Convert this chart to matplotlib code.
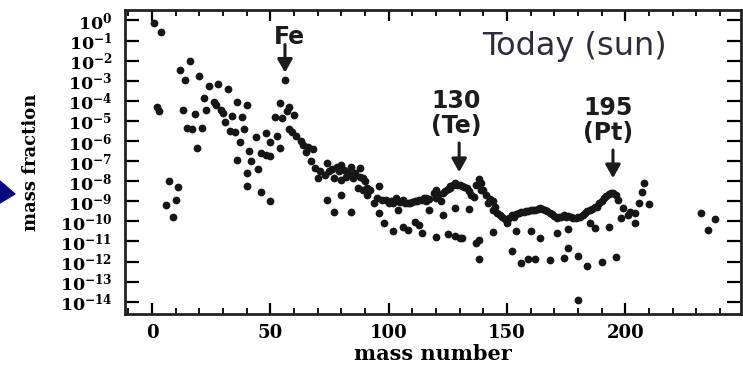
import numpy as np
import matplotlib.pyplot as plt
from matplotlib.ticker import FixedLocator, MultipleLocator, NullFormatter
from matplotlib.patches import Polygon

plt.rcParams['mathtext.fontset'] = 'dejavuserif'

# solar isotopic mass fractions: mass number and log10 of the mass fraction
mass_number = [
    1, 4, 2, 3, 6, 7, 9, 10, 11,
    12, 13, 14, 15, 16, 17, 18, 19, 20, 21, 22, 23, 24, 26, 27, 28, 29, 30,
    31, 32, 33, 34, 35, 36, 36, 37, 38, 39, 40, 40, 40, 41, 42, 44, 45, 46,
    46, 48, 48, 50, 50, 50, 52, 53, 54, 54, 55, 56, 57, 58, 58, 59, 60, 61,
    63, 64, 65, 66, 67, 68, 69, 70, 71, 73, 74, 74, 75, 76, 77, 77, 78, 79,
    80, 80, 80, 81, 82, 83, 84, 84, 85, 86, 87, 88, 88, 89, 89, 90, 91, 91,
    92, 94, 95, 96, 96, 97, 98, 99, 100, 101, 102, 102, 103, 104, 104, 105,
    106, 106, 107, 108, 108, 109, 110, 111, 111, 112, 113, 113, 114, 114, 115,
    116, 116, 117, 117, 119, 120, 120, 120, 121, 122, 123, 123, 124, 125, 125,
    126, 126, 127, 128, 128, 128, 129, 130, 130, 131, 131, 132, 133, 134, 134,
    135, 136, 137, 137, 138, 138, 138, 139, 139, 140, 141, 142, 143, 144, 144,
    144, 145, 146, 147, 148, 149, 150, 151, 152, 152, 153, 154, 154, 155, 156,
    156, 157, 158, 159, 159, 160, 160, 161, 162, 162, 163, 164, 164, 165, 166,
    167, 168, 168, 169, 170, 171, 171, 172, 173, 174, 174, 175, 176, 176, 176,
    177, 178, 179, 180, 180, 180, 181, 182, 183, 184, 184, 185, 185, 186, 187,
    187, 188, 189, 190, 190, 191, 192, 193, 193, 194, 195, 196, 196, 197, 198,
    199, 201, 202, 204, 204, 206, 207, 208, 210, 232, 235, 238,
]
log_fraction = [
    -0.12, -0.56, -4.30, -4.50, -9.18, -8.00, -9.76, -8.96, -8.30,
    -2.49, -4.44, -2.94, -5.35, -2.03, -5.40, -4.65, -6.35, -2.78, -5.35,
    -3.86, -4.44, -3.27, -4.07, -4.22, -3.18, -4.44, -4.60,
    -5.07, -3.39, -5.49, -4.74, -5.57, -4.07, -6.95, -6.05, -4.80, -5.40,
    -4.22, -7.60, -8.23, -6.50, -7.00, -5.82, -7.40, -6.60,
    -8.56, -5.60, -6.68, -6.07, -6.77, -9.00, -4.80, -5.74, -4.10, -6.35,
    -4.85, -2.94, -4.52, -4.30, -5.40, -5.57, -4.69, -5.77,
    -6.02, -6.18, -6.57, -6.30, -7.00, -6.40, -7.35, -7.85, -7.50, -7.68,
    -7.10, -8.96, -7.50, -7.40, -7.85, -9.51, -7.30, -7.50,
    -7.18, -7.93, -8.68, -7.45, -7.77, -7.60, -7.27, -9.54, -7.85, -7.60,
    -8.35, -7.35, -7.80, -7.85, -8.43, -8.00, -8.35, -8.68,
    -8.43, -9.09, -8.84, -8.26, -9.59, -8.93, -10.06, -8.93, -9.09, -9.00,
    -9.10, -10.47, -8.84, -9.01, -9.43, -9.05,
    -10.26, -8.95, -9.09, -10.42, -9.09, -9.09, -9.05, -9.01, -10.01, -9.00,
    -8.93, -10.17, -8.95, -10.59, -8.84,
    -9.01, -8.85, -9.43, -8.90, -8.59, -8.43, -8.84, -10.76, -8.70, -9.01,
    -8.60, -9.68, -8.50, -8.40, -10.64,
    -8.26, -8.34, -8.20, -8.10, -9.34, -10.72, -8.20, -8.18, -10.81, -8.25,
    -10.81, -8.30, -8.34, -8.50, -9.39,
    -8.68, -8.80, -8.20, -11.06, -7.90, -11.89, -10.92, -8.10, -8.43, -8.43,
    -8.70, -9.09, -8.90, -9.01, -9.43,
    -10.51, -9.30, -9.59, -9.68, -9.80, -9.90, -10.09, -9.85, -9.70, -11.47,
    -9.76, -9.65, -10.46, -9.60, -9.55,
    -12.09, -9.51, -9.50, -9.50, -11.89, -9.45, -10.46, -9.43, -9.45, -11.89,
    -9.40, -9.34, -10.81, -9.38, -9.45,
    -9.50, -9.59, -11.92, -9.65, -9.75, -9.84, -10.56, -9.80, -9.78, -9.70,
    -11.84, -9.76, -9.75, -10.39, -11.31,
    -9.80, -9.84, -9.82, -9.80, -11.71, -13.91, -9.76, -9.70, -9.60, -9.50,
    -12.22, -9.43, -10.09, -9.40, -9.26,
    -10.34, -9.26, -9.10, -9.00, -12.04, -8.84, -8.75, -8.65, -10.26, -8.60,
    -8.59, -8.70, -11.79, -8.93, -9.84,
    -9.34, -9.68, -9.51, -9.59, -10.09, -9.09, -8.56, -8.10, -9.13, -9.56,
    -10.42, -9.89,
]

decades = np.arange(0, -15, -1)
ytick_labels = [r'$\mathbf{10^{%d}}$' % d for d in decades]

fig = plt.figure(figsize=(7.43, 3.65), dpi=100)
ax = fig.add_axes([125 / 743, 1 - 314 / 365, 616 / 743, 304 / 365])

ax.plot(mass_number, 10.0 ** np.array(log_fraction), 'o', color='#161616',
        ms=5.6, mec='none')

ax.set_yscale('log')
ax.set_xlim(-11.4, 248.9)
ax.set_ylim(10 ** -14.61, 10 ** 0.52)

ax.yaxis.set_major_locator(FixedLocator(10.0 ** decades))
ax.yaxis.set_minor_locator(FixedLocator([]))
ax.set_yticklabels(ytick_labels)
ax.yaxis.set_minor_formatter(NullFormatter())
ax.xaxis.set_major_locator(MultipleLocator(50))
ax.xaxis.set_minor_locator(MultipleLocator(10))

ax.tick_params(axis='y', which='major', direction='in', length=10, width=1.6,
               left=True, right=True, pad=9, labelsize=12.5)
ax.tick_params(axis='x', which='major', direction='in', length=8, width=1.6,
               top=True, bottom=True, pad=7, labelsize=13)
ax.tick_params(axis='x', which='minor', direction='in', length=4, width=1.3,
               top=True, bottom=True)
for lab in ax.get_xticklabels():
    lab.set_family('DejaVu Serif')
    lab.set_weight('bold')

for s in ax.spines.values():
    s.set_linewidth(2.0)
    s.set_color('#222222')

ax.set_xlabel('mass number', family='DejaVu Serif', weight='bold',
              fontsize=15, labelpad=2)
ax.set_ylabel('mass fraction', family='DejaVu Serif', weight='bold',
              fontsize=13)
ax.yaxis.set_label_coords(-0.138, 0.5)

# element peaks with arrows
note_font = dict(family='DejaVu Sans', weight='bold', fontsize=17,
                 color='#1c1c1c', ha='center', va='center')
ax.text(58, 10 ** -0.8, 'Fe', **note_font)
ax.text(128.5, 10 ** -4.64, '130\n(Te)', linespacing=1.05, **note_font)
ax.text(192.7, 10 ** -4.96, '195\n(Pt)', linespacing=1.05, **note_font)

arrow = dict(arrowstyle='-|>,head_length=0.8,head_width=0.45', lw=2.2,
             color='#1c1c1c', shrinkA=0, shrinkB=0)
ax.annotate('', xy=(56.2, 10 ** -2.6), xytext=(56.2, 10 ** -1.2),
            arrowprops=arrow)
ax.annotate('', xy=(129.8, 10 ** -7.55), xytext=(129.8, 10 ** -6.1),
            arrowprops=arrow)
ax.annotate('', xy=(194.8, 10 ** -7.85), xytext=(194.8, 10 ** -6.45),
            arrowprops=arrow)

ax.text(139.3, 10 ** -1.3, 'Today (sun)', family='DejaVu Sans', fontsize=23,
        color='#2c2c3c', ha='left', va='center')

# pointer coming in from the left margin
fig.patches.append(Polygon([[0, 1 - 181 / 365], [15 / 743, 1 - 194 / 365],
                            [0, 1 - 203 / 365]], closed=True,
                           transform=fig.transFigure, color='#0a0a80'))

fig.savefig('out.png', dpi=100)
